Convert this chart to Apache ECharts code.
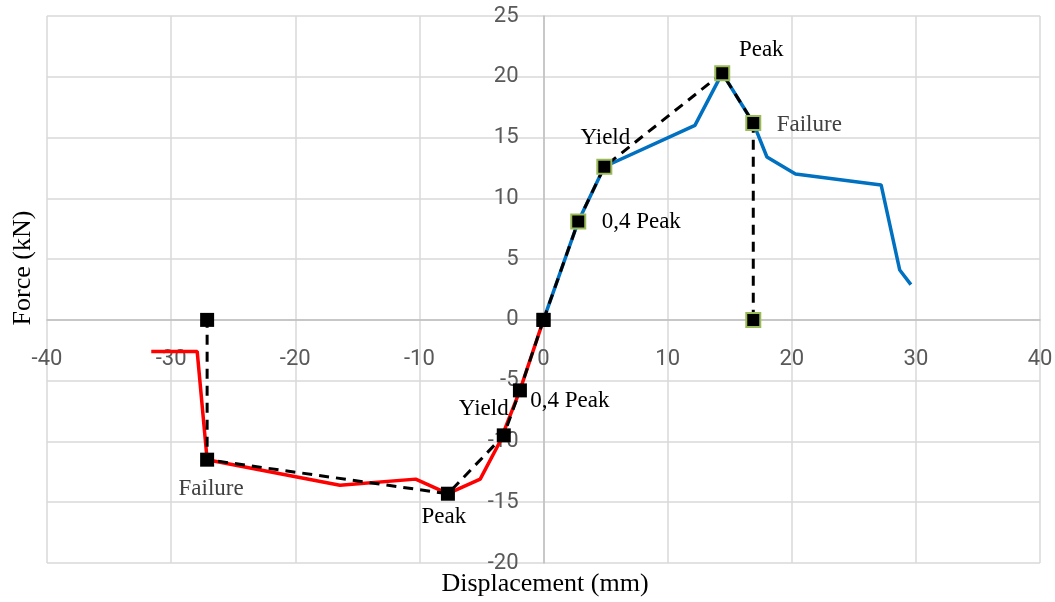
<!DOCTYPE html>
<html>
<head>
<meta charset="utf-8">
<script src="https://cdn.jsdelivr.net/npm/echarts@6/dist/echarts.min.js"></script>
<style>
html,body{margin:0;padding:0;background:#fff;}
#chart{width:1055px;height:602px;}
</style>
</head>
<body>
<div id="chart"></div>
<script>
// ---- data (displacement mm, force kN) ----
const posCurve = [[0,0],[2.8,8.1],[4.9,12.6],[12.2,16.0],[14.4,20.3],[16.9,16.2],[18.0,13.4],[20.3,12.0],[27.2,11.1],[28.7,4.1],[29.6,2.9]];
const negCurve = [[-31.6,-2.6],[-27.9,-2.6],[-27.1,-11.5],[-16.4,-13.6],[-10.3,-13.1],[-7.7,-14.3],[-5.1,-13.1],[-3.5,-10.0],[-1.9,-5.8],[0,0]];
const posIdeal = [[0,0],[2.8,8.1],[4.9,12.6],[14.4,20.3],[16.9,16.2],[16.9,0]];
const negIdeal = [[0,0],[-1.9,-5.8],[-3.2,-9.5],[-7.7,-14.3],[-27.1,-11.5],[-27.1,0]];
const posNames = ['', '0,4 Peak', 'Yield', 'Peak', 'Failure', ''];
const negNames = ['', '0,4 Peak', 'Yield', 'Peak', 'Failure', ''];
const xTitle = 'Displacement (mm)';
const yTitle = 'Force (kN)';

// ---- label styling (offsets from marker centre) ----
const posOffsets = [[0,0],[63,1],[1,-29],[39,-23],[56,2],[0,0]];
const negOffsets = [[0,0],[50,11],[-20,-26],[-4,23],[4,29],[0,0]];
const labelColor = {'Failure':'#404040'};

const chart = echarts.init(document.getElementById('chart'));

function markerData(pts, names, offsets, border) {
  return pts.map((p, i) => ({
    value: p,
    itemStyle: {color:'#000', opacity: 1, borderColor: (border && i>0) ? '#9BBB59' : '#000', borderWidth: (border && i>0) ? 2 : 0},
    label: {
      show: names[i] !== '',
      formatter: names[i],
      position: 'inside',
      offset: offsets[i],
      align: 'center',
      verticalAlign: 'middle',
      color: labelColor[names[i]] || '#000',
      fontFamily: '"Liberation Serif", "DejaVu Serif", serif',
      fontSize: 23
    }
  }));
}

const tickFont = 'Roboto, "Liberation Sans", sans-serif';
const GRID = {left: 47, right: 15, top: 16, bottom: 39};

const option = {
  animation: false,
  grid: Object.assign({containLabel: false, outerBoundsMode: 'none'}, GRID),
  xAxis: {
    type: 'value', min: -40, max: 40, interval: 10, position: 'bottom', offset: 0,
    axisLine: {show: true, onZero: false, lineStyle: {color: '#bfbfbf', width: 1.5}},
    axisTick: {show: false},
    axisLabel: {color: '#595959', fontSize: 22, fontFamily: tickFont, margin: 29},
    splitLine: {show: true, lineStyle: {color: '#d9d9d9', width: 1.5}}
  },
  yAxis: {
    type: 'value', min: -20, max: 25, interval: 5, position: 'left', offset: 0,
    axisLine: {show: true, onZero: false, lineStyle: {color: '#bfbfbf', width: 1.5}},
    axisTick: {show: false},
    axisLabel: {color: '#595959', fontSize: 22, fontFamily: tickFont, margin: 25},
    splitLine: {show: true, lineStyle: {color: '#d9d9d9', width: 1.5}}
  },
  graphic: [
    {type: 'text', x: 545, y: 584, style: {text: xTitle, font: '26px "Liberation Serif", serif', fill: '#000', align: 'center', verticalAlign: 'middle'}},
    {type: 'text', x: 23, y: 268, rotation: Math.PI/2, style: {text: yTitle, font: '26px "Liberation Serif", serif', fill: '#000', align: 'center', verticalAlign: 'middle'}}
  ],
  series: [
    {type: 'line', data: negCurve, symbol: 'none', lineStyle: {color: '#FF0000', width: 3.5}, z: 2},
    {type: 'line', data: posCurve, symbol: 'none', lineStyle: {color: '#0070C0', width: 3.5}, z: 2},
    {type: 'line', data: negIdeal, symbol: 'none', lineStyle: {color: '#000', width: 3, type: [10, 7]}, z: 3},
    {type: 'line', data: posIdeal, symbol: 'none', lineStyle: {color: '#000', width: 3, type: [10, 7]}, z: 3},
    {type: 'scatter', symbol: 'rect', symbolSize: 14, data: markerData(negIdeal, negNames, negOffsets, false), z: 4},
    {type: 'scatter', symbol: 'rect', symbolSize: 14, data: markerData(posIdeal, posNames, posOffsets, true), z: 4}
  ]
};
chart.setOption(option);

// move both axes (line + labels) onto the zero crossing using the library's scales
const zeroPx = chart.convertToPixel({gridIndex: 0}, [0, 0]);
const H = 602;
chart.setOption({
  xAxis: {offset: -((H - GRID.bottom) - zeroPx[1])},
  yAxis: {offset: -(zeroPx[0] - GRID.left)}
});
</script>
</body>
</html>
